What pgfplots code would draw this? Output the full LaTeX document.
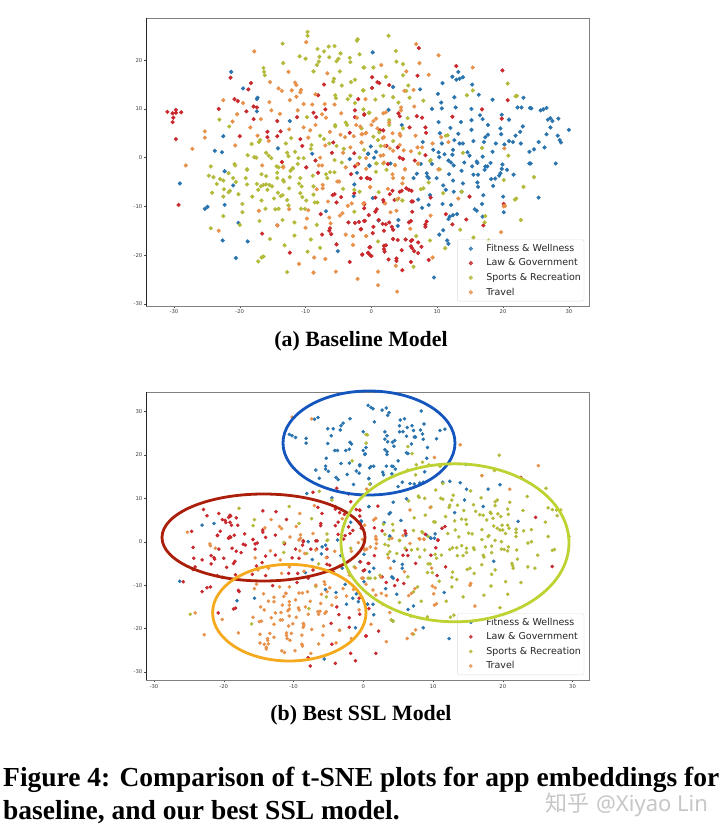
\documentclass[border=0pt]{standalone}
\usepackage{pgfplots}
\pgfplotsset{compat=1.18}
\usepackage{fontspec}
\setmainfont{DejaVu Sans}
\newfontfamily\capfont{Liberation Serif}
\newfontfamily\cjk{Noto Sans CJK SC}
\newfontfamily\wm{Noto Sans}
\definecolor{cB}{HTML}{2A74AE}
\definecolor{cR}{HTML}{C9282D}
\definecolor{cS}{HTML}{B3BA3A}
\definecolor{cT}{HTML}{E8914A}
\pgfplotsset{
 tsne/.style={
  scale only axis, width=443pt,
  axis line style={draw=black!50, line width=0.7pt},
  tick style={draw=black!70, line width=0.4pt},
  tick align=outside, major tick length=2pt,
  xtick pos=bottom, ytick pos=left,
  xtick={-30,-20,-10,0,10,20,30}, ytick={-30,-20,-10,0,10,20,30},
  /pgf/number format/assume math mode=true,
  tick label style={font=\fontsize{5.3}{6}\selectfont, text=black!75},
  xticklabel style={yshift=1.5pt}, yticklabel style={xshift=1.5pt},
  legend cell align=left,
  legend style={font=\fontsize{9.5}{11}\selectfont, text=black!85, draw=black!13, fill=white, fill opacity=0.8, text opacity=1, rounded corners=1.5pt, line width=0.4pt,
    inner xsep=1pt, inner ysep=2.5pt, row sep=1.9pt, anchor=south east},
  legend image code/.code={\path[draw=none,fill=none] (0pt,-2pt) rectangle (26pt,2pt); \draw[mark repeat=2,mark phase=2,##1] plot coordinates {(0pt,0pt)(12.5pt,0pt)(25pt,0pt)};},
 },
 dotB/.style={only marks, mark=*, color=cB, mark options={draw=none, fill=cB}},
 dotR/.style={only marks, mark=*, color=cR, mark options={draw=none, fill=cR}},
 dotS/.style={only marks, mark=*, color=cS, mark options={draw=none, fill=cS}},
 dotT/.style={only marks, mark=*, color=cT, mark options={draw=none, fill=cT}},
}
\begin{document}
\begin{tikzpicture}
\path[use as bounding box, fill=white] (0,0) rectangle (726pt,838pt);
% ---------- panel a
\begin{axis}[tsne, at={(146.3pt,532pt)}, anchor=south west, height=287.7pt,
  xmin=-34.2, xmax=33.1, ymin=-30.45, ymax=28.6, mark size=1.9pt,
  legend style={at={(axis description cs:0.9885,0.016)}}]
\addplot[dotB] coordinates {
(-21.3,17.6)(-19.5,14.2)(-17.4,12)(-17.3,12.3)(-17.4,9.5)(-12.4,7.5)(-22.5,4.4)(-23.8,1.4)(-22.7,1.1)(-14.2,1.9)(-9,0.8)(-3.3,-0.3)(-0.5,0.8)(-0.3,-1.7)
(0.2,21.6)(13.2,17.6)(12.3,16.6)(12.9,16)(13.4,16.2)(13.9,16.5)(10.8,15.3)(15.3,15)(7.4,14)(10.1,13.1)(12.6,12.4)(16.3,12.9)(18.4,11.9)(10.6,11.3)(23.1,12.3)(9.2,10)(10.7,10.1)(12.8,10.3)(15.2,10)(22.2,10.3)(22.8,10.3)(24.1,10.2)(24.3,10.1)(25.7,9.7)(26.1,9.9)(26.6,10.2)(16.5,8.7)(19.8,8.8)(16.9,7.9)(20.9,7.8)(26.8,7.8)(27.2,8.1)(27.5,7.5)(28.4,8)(10.2,7.3)(13.6,7.3)(15.2,7.7)(17.7,6.7)(12,6.1)(15.2,5.7)(19.6,6)(23,6.4)(22.6,5.3)(27.2,6.2)(30,5.7)(10.4,5)(13.2,4.9)(17.7,4.7)(19.7,4.8)(21.9,4.5)(26.6,4.8)(28.3,4.5)(12.6,3.6)(15.5,3.4)(17.3,4.2)(17.1,3.2)(20.9,3.4)(21.5,3.2)(25.4,3.2)(28.6,3.6)(28.8,3.1)(7.8,3.2)(10.7,2.9)(13.4,2.9)(13.9,2.9)(18.9,2.9)(20.2,2.7)(22.7,2.9)(26.3,2.1)(24.7,1.7)(24,1.2)(9.4,1.6)(12.4,1.6)(10.2,1.1)(11.1,0.7)(12.3,0.6)(14.6,1.1)(14.9,0.4)(18.4,1.2)(16.9,0.2)(10.3,0.1)(11.7,-0.6)(12.1,-1)(12.5,-1.6)(14.1,-1)(16,-0.8)(16.1,-1.1)(18.1,-1.1)(15.3,-1.8)(17.3,-1.8)(17.6,-1.8)(19.9,-1.4)(19.8,-2.3)(20.6,-2.5)(24,-1.2)(24.2,-1.2)(28,-1.2)(9.2,-1.3)(7.5,-1.3)(2.9,-1.2)(-0.3,-1.6)(-0.5,0.8)(0.4,0)(0.7,1.2)(-0.1,2.3)(4.6,6.7)(3.3,14.5)(2.6,9.8)
(-29.1,-5.3)(-22.3,-2.8)(-21,-5.7)(-22.3,-9.7)(-24.9,-10.1)(-25.3,-10.5)(-20.2,-13.4)(-22.6,-17)(-18.8,-17.2)(-20.6,-20.6)(-2.2,-3.1)(-2.6,-5.5)(-2.7,-7.9)(-6.9,-11)(-5.1,-19.2)
(13.7,-2.7)(6.9,-3.3)(6.4,-4.2)(8.4,-3.2)(8.5,-3.9)(8.7,-4.2)(9.9,-4.2)(11.8,-3.4)(12.4,-4.7)(15.5,-3.5)(16.2,-3.5)(17.2,-2.5)(18.2,-4.4)(18.8,-4.3)(19.4,-3.7)(19.6,-3.2)(21.6,-3.5)(13.9,-5.3)(10.9,-5.7)(11.3,-6.6)(12.5,-7)(16.1,-5.1)(16.2,-6)(18.5,-5.8)(13.7,-7)(17,-7.7)(8.9,-7.7)(20,-8)(25.4,-8.2)(0.2,-8.3)(7.1,-8.6)(10.8,-9.5)(8.7,-9.7)(7.7,-10.3)(12.1,-9.7)(16.8,-9.5)(15.7,-10.6)(16,-10.9)(13,-11.6)(12.4,-11.8)(11.9,-12.1)(11.7,-12.6)(20.1,-11.2)(16.9,-12.1)(4.1,-12.8)(4,-14)(1.1,-12.9)(10.9,-14.9)(10.3,-15.8)(11.5,-17)(11.7,-17.7)(9.5,-24.6)
};
\addplot[dotR] coordinates {
(-31,9.4)(-30.2,9.1)(-29.7,9.8)(-29.7,9.2)(-28.9,9.3)(-30.1,8.2)(-30.2,7.3)(-29.7,3.8)(-21.4,16.4)(-18.3,15.3)(-18.7,14)(-20.8,12)(-20.3,11.6)(-23.2,10)(-19,9.5)(-17.9,10.5)(-17.4,10.3)(-17.9,7.9)(-14.3,7.5)(-15.8,5.3)(-13.8,5.4)(-20,4.4)(-15.8,4.2)(-14.3,4.4)(-7.2,15)(-8.1,12.8)(-8.8,9.2)(-7,9.9)(-8.4,8.3)(-11.3,8.3)(-2,12)(-1.1,8.8)(-2.5,9.7)(-2.5,8.3)(-10.8,3.8)(-10.5,2.4)(-5.8,3.1)(-3.3,5.1)(-6,1)(-2.6,0.9)(-13.6,-0.9)(-8.5,-0.6)(-2,-1.3)(-2.5,-1.8)
(7.2,22.5)(12.9,18.8)(19.9,17.9)(7,16.8)(0.1,16.5)(0.9,15.5)(1.2,15.3)(2.7,14.9)(0.1,14.3)(20.7,11.8)(16.8,9.9)(4.1,9.1)(4.3,8.5)(-1.1,8.9)(6.9,8.5)(7.7,8.2)(12.3,8.4)(19.8,8)(5.8,6.2)(8.2,6.2)(8.3,5.1)(1.3,5.6)(1.8,5.6)(2.3,2.4)(4,2.1)(4.3,0)(4.8,-0.3)(8.2,0.5)(6.6,-0.6)(2.5,-1.3)
(-29.3,-9.7)(-16.6,-15.6)(-14.3,-13.9)(-12.4,-19.5)(-9.9,-2)(-8.1,-3.1)(-5.9,-7.7)(-5.6,-7.5)(-4.6,-8.1)(-5.3,-9.2)(-2.6,-7.3)(-3.1,-3.4)(-1.6,-4.2)(-0.6,-4.2)(-7.7,-11.6)(-6.3,-14.5)(-6.4,-15)(-6.1,-15.7)(-7.5,-15.8)(-5.3,-17.8)(-3.5,-13.3)(-2.5,-13.4)(-1.9,-13.2)(-1.1,-13)(-1.6,-14.7)(-1.1,-9.4)(-1.1,-10.4)(-0.4,-11.8)(-3.3,-21.4)(-1.4,-19.9)(-0.5,-19.5)(-0.3,-18.4)
(-0.7,-4.2)(-0.2,-4.4)(5.3,-6.3)(5.7,-6.6)(6.1,-6.8)(4.3,-7)(4.6,-6.8)(3.2,-6.8)(2.8,-7.5)(0.6,-8.2)(3.5,-8.7)(1.8,-8.7)(1.9,-9.2)(6.1,-9)(6.3,-9)(9,-8.2)(14.9,-8)(-1.1,-9.6)(0.8,-10.6)(0.6,-11.1)(6.2,-11.1)(11.3,-11.6)(14.4,-12.7)(-1,-13)(1.1,-12.8)(1.7,-13.6)(2.2,-13.7)(2.7,-13.3)(3.1,-14.2)(3.3,-14.8)(5.7,-13.3)(6,-13)(8.4,-13.1)(8.2,-13.7)(8.2,-14.2)(12.3,-13.7)(17,-13.9)(20.1,-9.5)(0.3,-14.2)(-1.6,-14.7)(1.9,-15)(0.2,-15.5)(3.3,-16.7)(4,-16.9)(5.2,-16.8)(6,-17.1)(6.2,-16.9)(7.1,-17.4)(7.6,-18.3)(6,-18.2)(6.2,-18.6)(1.9,-18.1)(2.2,-18)(1.9,-18.8)(-0.2,-18.4)(-0.5,-19.6)(-0.2,-20)(0,-20.2)(-1.4,-19.9)(2,-19.3)(4.6,-19)(6.5,-19.2)(7.1,-19.6)(2.6,-20.9)(3.8,-20.7)(3.8,-21.2)(6,-21.4)(8.7,-21)(4.7,-23.1)
};
\addplot[dotS] coordinates {
(-9.7,25.8)(-9.7,25)(-2.1,24.3)(-2.2,24)(-13.5,23.4)(-8.2,22.3)(-6.5,22.8)(-5.6,22.9)(-10.9,20.8)(-10,20.3)(-7.9,20.7)(-7.2,21.8)(-6.4,20.6)(-4.7,21.4)(-5,20.3)(-3.3,20.5)(-1.8,21.2)(-13.4,19.4)(-8,19.7)(-8.3,19)(-5.3,19.8)(-3.2,19.6)(-16.4,18.4)(-16.3,17.6)(-16.2,16.9)(-8.8,17.7)(-4.8,17.7)(-1.2,18.5)(-5.7,16.2)(-5.8,15.6)(-3.1,15.5)(-2.5,16)(-4.5,14.8)(-1.3,13.8)(-5.5,12.8)(-5.4,12.2)(-3.6,12)(-3.2,12.7)(-2.5,11.2)(-1.2,9.9)(-0.4,9.2)(-23.1,7.8)(-21.6,6.4)(-9.8,8.3)(-3.9,7.2)(-3.7,6.7)(-5.5,6.7)(-5.5,6.4)(-7.8,4.5)(-7.2,3.8)(-12.2,4)(-16.9,3.6)(-17.1,3.2)(-18.2,2.8)(-13,2.9)(-9.1,2.6)(-9.2,1.8)(-6.4,2.9)(-5.3,2.4)(-4.2,1.8)(-1.1,1.6)(-18.8,0.5)(-17.8,0.1)(-17.5,0)(-16,1)(-15.6,0.4)(-15.2,-0.1)(-12.8,1)(-12.6,0.3)(-11.6,1.2)(-11.1,-0.1)(-10.3,-0.1)(-5.6,-0.5)(-4.5,-1)(-1.8,0)(-24.4,-1.8)(-20.8,-1.3)(-20.7,-1.6)(-18.9,-2.4)(-14.1,-2)(-12,-2.2)(-11.2,-1.3)(-13.4,-1.8)
(2.6,25)(3.7,21.9)(3.8,19.7)(4.8,19.2)(0.3,18.5)(-1.1,18.5)(2.2,16.6)(4.8,16.9)(20.7,15.2)(15.4,13.8)(14.5,12.8)(5.6,14.8)(-1.2,13.8)(5.3,13.7)(1.8,12.7)(3.3,12.4)(5.8,12.3)(0.6,11.9)(4.1,11.3)(21.9,12.6)(22.1,12.7)(-0.3,9.2)(2.7,7.7)(2.7,6.7)(5.5,8.1)(4.8,6)(-1.5,6)(1.2,5.2)(0.3,4.3)(1,3.6)(3.3,3.4)(1.4,2.4)(11.3,4.5)(11.6,4.6)(16.8,2)(20.8,0.4)(7.3,0.9)(9,-0.5)(0.8,-1.2)(10.4,-2.4)(13.9,1)(7.9,11.7)
(-24.7,-3.7)(-24,-4)(-21.7,-3.2)(-23,-4.4)(-22.5,-4.7)(-23.5,-5.4)(-21,-4.2)(-20.6,-5)(-22.4,-6.5)(-21.5,-6.8)(-21.7,-7.1)(-24.2,-7.2)(-20.2,-7.5)(-22.5,-8)(-19.6,-9.5)(-19.6,-11.2)(-22.5,-12)(-24.4,-14.5)(-20,-13.8)(-18.9,-2.5)(-19.1,-4.2)(-18.9,-5.5)(-17.4,-5.4)(-16.7,-3.4)(-16,-3.8)(-16.8,-5.9)(-16.4,-5.6)(-16,-5.5)(-15.5,-5.6)(-15.1,-5.9)(-17.2,-6.6)(-15.8,-6.6)(-18.1,-8)(-16.7,-8.8)(-16.1,-10.5)(-14.8,-8.4)(-14.2,-7.2)(-13.8,-7.9)(-13.5,-7.7)(-12.8,-8.7)(-12.6,-9.8)(-17,-13)(-14.6,-10.6)(-14.1,-10.5)(-13.5,-12.8)(-11.7,-13.3)(-11.7,-16)(-15.4,-16.7)(-13.2,-18)(-17.2,-21.3)(-16.7,-20.5)(-16.4,-20.3)(-12.8,-23.5)(-14.4,-1.8)(-14.3,-3.1)(-14.3,-4.2)(-13.4,-4.6)(-13.3,-4.9)(-12.5,-6.3)(-12.4,-4)(-12.3,-2.7)(-11.9,-2.2)(-11,-5.3)(-10.8,-4.2)(-10.6,-5.9)(-10.8,-7.3)(-10.5,-8.1)(-9.9,-8.8)(-10.7,-10.5)(-10.1,-10.5)(-9.2,-16.8)(-9.7,-19.3)(-7.8,-18.5)(-8.8,-5.9)(-8.9,-3.7)(-8.8,-7.6)(-8.6,-9.2)(-8.2,-9.2)(-8.3,-13.8)(-6.9,-3.4)(-6.7,-4.2)(-6.3,-3)(-5.6,-3)(-4.3,-6.4)(-2.6,-11.1)(-2.6,-6.6)(-1.8,-7)
(0.7,-1.2)(1.8,-1.2)(0.7,-2.9)(2.3,-2.5)(7.1,-1.3)(8.9,-0.7)(8.7,-5.1)(7.5,-6.5)(7.9,-6.3)(10.9,-7.3)(13.7,-7)(1.1,-7.1)(3.9,-8.6)(4.7,-8.8)(17.3,-12)(17.2,-13.3)(13.5,-14.8)(21.8,-8.6)(22,-8.4)(24.7,-4)(23.1,-6)(20.1,-4.6)(22.7,-12.8)(15.5,-16.4)(17.8,-17)(8.9,-17)(11.2,-18.6)(6.4,-22.4)(6.8,-16.1)(1,-17.2)
};
\addplot[dotT] coordinates {
(-17.8,21.8)(-9.9,23.7)(-12.6,17.6)(-6.7,17.3)(-15.4,15.5)(-11.6,15.4)(-11.4,14.9)(-14.1,14.2)(-13.6,13.7)(-12.1,13.8)(-10.7,13.9)(-10.8,13.4)(-8.5,13)(-12.4,11.8)(-11.4,12.5)(-22.5,11.8)(-19.5,11.2)(-15.5,11.4)(-10.3,11)(-9,10.9)(-7.1,11)(-5.6,10.9)(-20.4,8.9)(-21.1,7.4)(-15.2,9.7)(-13.9,9)(-11.2,9.7)(-7.5,8.9)(-6.9,8.2)(-4.6,9.1)(-16.8,7.9)(-18.4,6.2)(-25.3,5.4)(-25.3,4.1)(-17.3,4.5)(-15.6,3.4)(-12.5,5.8)(-10.3,6.2)(-9.3,5.6)(-8.5,6.7)(-6.3,5.3)(-2.3,6.7)(-1.7,6.4)(-2.2,8.2)(-0.9,5)(-1.4,4.8)(-4.7,4.7)(-4,4.2)(-2.7,4.4)(-9.6,4.1)(-20.7,2.5)(-27.2,1.8)(-7,2.5)(-3.2,2.1)(-1.5,3.1)(-4.3,1)(-7.8,0)(-8,-1.6)(-7.5,-1.6)(-28.2,-1.6)(-16.6,-1.6)(-3.9,-2)(-2.2,-1.4)(-0.8,-0.1)
(6.8,23.3)(10.2,21)(7.3,19.4)(1.5,19)(8.7,17)(5.3,17.7)(15.4,18.5)(6.4,13.9)(5,13.7)(-0.9,12)(6.5,10.5)(4.5,10.3)(4.5,9.7)(1.8,9.1)(2.2,9.3)(0.7,8)(0.3,7.5)(0,6.7)(2.7,7.2)(0.9,6)(-1.5,4.8)(-0.8,5.1)(1.7,4)(1.9,4.2)(3.2,5)(4.3,4.9)(4.4,4.5)(6.7,4.5)(10.6,4.2)(11.7,3.2)(9.3,2.9)(7.7,2.1)(7,2.1)(6,1.3)(4.9,1.5)(3.3,1.4)(2,2.4)(1.8,0.5)(1.4,0.4)(2.8,1.9)(20.2,1.9)(3.6,-1.6)(5.1,-2.4)(7.1,-1.2)(10.2,-2.4)(-1.5,3.1)(-0.8,-2.3)(1.9,-1)(4.3,2.6)
(-23.2,-15)(-17.1,-10.9)(-14.3,-13.9)(-12.5,-10.6)(-13.4,-2)(-11,-21.8)(-8.7,-20.5)(-8.8,-23.6)(-7,-20.8)(-5.4,-23.4)(-2.1,-24.9)(-9.6,-10.8)(-9.8,-12.5)(-10,-14.4)(-6.6,-9)(-6.4,-12.3)(-6.2,-13.5)(-4.8,-11.9)(-4.4,-11.4)(-3.9,-15.8)(-2.8,-16.1)(-2.8,-17.9)(-0.8,-16.1)(-3.6,-9.9)(-3,-9.4)(-1.2,-9.4)(-7.4,-5.6)(-7.4,-6.3)(-5.2,-4.9)(-4.9,-4.9)(-8.3,-6.5)(-0.2,-6)
(3.6,-1.5)(5.1,-2.4)(3.2,-3.4)(3.3,-4.2)(4.8,-4.2)(4.7,-5.3)(-0.2,-6.1)(2.5,-6.4)(10.2,-2.4)(4.1,-8.4)(2.1,-9.4)(-1.2,-9.4)(2.9,-11.2)(3.8,-10.9)(13.2,-8.4)(9,-11.9)(5.9,-14.6)(-0.8,-16.1)(20.1,-10)(20.3,-9.9)(19.7,-15.3)(9.3,-20.5)(3.7,-22.2)(1,-23.4)(1,-26.2)(3.9,-27.5)
};
\legend{Fitness \& Wellness,Law \& Government,Sports \& Recreation,Travel}
\end{axis}
% ---------- panel b
\begin{axis}[tsne, at={(146.3pt,157.7pt)}, anchor=south west, height=288pt,
  xmin=-31.1, xmax=32.4, ymin=-31.9, ymax=34.4, mark size=1.6pt,
  legend style={at={(axis description cs:0.9885,0.018)}}]
\addplot[dotB] coordinates {
(0.7,31.4)(-6.5,28.6)(-7,28.2)(-1.9,28.3)(-10.6,24.7)(-10.2,24.4)(-9.7,24)(-8.2,23.8)(-8.2,22.7)(-5.1,26)(-4.3,26)(-3.3,25.7)(-3.2,26.7)(-2.9,27.3)(0,25.3)(-4.6,24.4)(-5.1,22.6)(-1.9,22.9)(-1.7,22.5)(-4.1,21)(-3.7,21)(-2.5,21)(-2,21.3)(0.4,21.7)(0,21)(0.3,20.2)(-5.3,19.2)(-3.2,18)(-2,18.1)(-0.5,17.5)(-5.4,17.4)(-5.4,16.7)(-5,16.2)(-6.8,16.5)(-1,16.3)(-0.6,15.8)(-2.3,15.5)(0.9,17)(-6.3,14.6)(-3.9,14.8)(-3.6,14.3)(-1.4,13.2)(0.8,14.6)(-8.1,11.1)(-4.5,10.1)(-23.1,3.8)(-21.4,4.2)(0.8,8.1)(-0.3,4.8)(-1.8,4.5)(-7.9,0)
(1.1,30.9)(1.4,30.6)(1.6,27.6)(2.7,30.3)(3.3,30.8)(3.7,29.7)(3.5,29.1)(8.3,30.1)(5.3,28)(5.9,28.3)(8.7,27.1)(5.2,26.7)(6.3,26.3)(7,26.7)(8.2,25.7)(5.2,25.3)(5.7,25.3)(6.2,24.3)(7.2,25.6)(8.5,24.8)(7.3,24.1)(7.5,24.1)(11,25.6)(11.7,25.9)(10.5,23.7)(8.6,23.6)(3.1,25.3)(3.4,24.4)(3.1,23.6)(3.5,23)(4.2,22.9)(4.5,23.3)(4.4,22)(6.9,22.5)(9.2,21.7)(3.1,21.2)(3.4,20.7)(3.4,20.1)(6.2,20.5)(6.4,20.3)(9.1,19.2)(5,18.6)(0.2,20.1)(1.1,17.3)(1.5,17.4)(3.3,17.4)(4.1,17.4)(4.3,17.3)(4.6,16.7)(2.8,16)(2.9,15.4)(4.1,15.6)(8.8,16.1)(-0.5,17.7)(0.8,14.5)(1,13.3)(5,12.7)(5.6,13.7)(6.7,13.4)(7.3,13.3)(8.1,13.5)(8.6,13.7)(11.4,13.7)(12.4,13.9)(13.9,13.6)(14.8,12.1)(17.9,12.1)(19.6,13.1)(14.5,9.6)(6.2,9.9)(4.3,9.1)(0.8,8.1)(13.1,6.7)(17.2,8.1)(3.9,6.7)(3.7,6.4)(5.4,4.9)(3,4.4)(22.2,4.7)(9.1,1.5)(10.3,1.8)(3.8,1.3)(9.7,0.8)(6.1,1.5)(-0.3,4.6)(14.7,17.8)
(-26.3,-9.1)(-15.6,-13)(-18.1,-13.6)(-7.3,-4.1)(-6,-2.8)(-5.4,-0.8)(-5.9,-1.2)(-3.2,-3.2)(-3,-6.1)(-3.7,0.4)(-8.3,-7.1)(-2.6,-9.8)(-3.9,-11.7)(-5.4,-11)(-2.4,-14.4)(-1.5,-13)(-1,-12)(-0.7,-13.8)(-1.1,-19.8)(-5.6,-27)(0.1,-2.9)(-0.5,-4.6)(0.6,-14.4)(0.9,-6.9)(0.1,-9.2)
(9.6,0.9)(10.2,0.8)(3.8,1.2)(4.4,-4.5)(5.6,-5.2)(5.6,-6.1)(1.5,-6.1)(4.1,-8.1)(4.3,-8.4)(3.2,-10.8)(4.8,-12.1)(11.6,-11.7)(6.4,-15.6)(7.2,-14.8)(8.6,-19.8)(12.3,-22.3)(18.7,-4.5)(1.4,-14.4)(0.6,-14.4)(1.5,-16.8)(4.2,-18.2)
};
\addplot[dotR] coordinates {
(-22.9,7.4)(-22.4,6)(-20.7,6.5)(-19.1,6.1)(-19,5.9)(-19.3,5.6)(-20.2,5.1)(-19.8,4.9)(-19.1,4.5)(-18.9,3.8)(-18.2,5.5)(-18,3.8)(-19.7,4.4)(-24.6,2.4)(-20.5,2.4)(-20.9,1.5)(-19.3,0.8)(-19,1)(-18.5,1.5)(-17,1.8)(-14.4,7.1)(-12.5,6.9)(-11,5.1)(-14.4,2.7)(-14.4,2.2)(-14,1)(-12.6,1.5)(-15.8,0.5)(-15.2,-0.3)(-11.3,-0.3)(-6.5,7.9)(-5.9,6.5)(-7.2,11.4)(-3.8,12.3)(-2.1,11)(-1.8,9.2)(-4,8.1)(-4,7.5)(-3.4,6.7)(-2.7,6.3)(-1,7.4)(-0.5,7.2)(-0.5,5.9)(-0.5,4.2)(-6.1,4.2)(-6.1,3.7)(-3.6,4.5)(-4,3.7)(-2.1,3.4)(-1.5,2.6)(-1.9,1.9)(-3.6,1.7)(-6.8,0.2)(-8.6,0.2)(-6.6,0.2)(-2.8,0.6)
(2.1,8.2)(1.6,3.2)(2.7,2.5)(6,2.5)(6.1,1.9)(8.9,1.7)(11.3,3.1)(11.7,3.5)(10.7,0.4)(24.7,5.6)(22.6,14.8)(-0.5,7.3)(-0.3,3.1)
(-24.4,-1.3)(-24.3,-3.8)(-23.1,-4.2)(-21.8,-3.2)(-21.4,-3.7)(-21.3,-4)(-21.8,-5.1)(-24.1,-5.8)(-24.4,-6.4)(-20.7,-1.7)(-20,-3.8)(-19.6,-5.9)(-18.4,-4.5)(-18.6,-5)(-18.3,-7.6)(-18.8,-1.5)(-18.2,-2.2)(-17.5,-2.5)(-17.2,-0.6)(-16.9,-0.8)(-20.9,1.4)(-19.3,0.9)(-19.1,1.2)(-15.8,0.5)(-15.5,-0.5)(-15.5,-1.7)(-14,-3.3)(-12.6,-3.1)(-15.3,-5.6)(-14.5,-4.8)(-15.9,-7.5)(-14,-7.8)(-11.3,-0.5)(-9.7,-1.7)(-10.2,-3.7)(-9.2,-3.8)(-8.6,0)(-8.7,-0.8)(-6.7,-1.7)(-7.5,-1.7)(-5.2,-1.7)(-5.2,-3.6)(-5.2,-5.2)(-4.8,-5.4)(-4.3,-6.9)(-10.7,-7.3)(-9.4,-7.3)(-7.2,-6.5)(-7.9,-8.4)(-9.5,-9.4)(-13,-10.1)(-11.1,-11.9)(-20.9,-7.8)(-20.2,-8.2)(-21.9,-10.4)(-22.4,-10.6)(-23.1,-11.5)(-25.8,-9.2)(-17.9,-11.2)(-17.8,-11.5)(-20.8,-16.4)(-18.6,-15.5)(-18.3,-15.3)(-4.6,-18.8)(-3.8,-15)(-3.5,-16.8)(-4.5,-23.6)(-2,-17.5)(-2,-19.7)(-1.8,-25.7)(-1.1,-27.4)(-0.5,-16.7)(-4,-28)(-7.6,-28.6)(-7.9,-26.7)(0.4,-21.7)(-2.6,1.4)(-2.1,-6.9)(-0.6,-13)(0.8,-15.4)(0.7,-5)
(10.7,0.3)(6.2,-1.9)(6.4,-3.2)(10.4,-1.4)(9.7,-3.1)(7.5,-5)(11.8,-5.8)(10.6,-7.8)(27.1,-5.7)(0.2,-6.5)(0,-6.7)(0.8,-5)(2.7,-8.1)(3.3,-9.4)(4.5,-10.1)(4.9,-8.8)(5.8,-9.6)(0.4,-21.7)(2.2,-20.6)(1.8,-25.7)(-0.4,-4.6)(1.6,-3.2)(5.7,-3.1)
};
\addplot[dotS] coordinates {
(-17.8,7.7)(-10.6,8.1)(-15.6,5.1)(-15.8,3.7)(-7.4,5.3)(-9.2,4.2)(-6.3,11.6)(0.4,24.7)(0.6,24.6)(0.4,22.7)(-1.6,18.6)(0.5,12.1)(-5.2,1.8)(-5.2,0.3)(-4.5,9.6)(0.9,13.2)(-11.4,-0.2)
(19.5,19.9)(6.4,21.9)(7,20.3)(8.5,18.3)(7.6,17.7)(6.4,16.5)(7.5,15.4)(9.4,17.7)(11,17.4)(18.8,16.4)(17,15.2)(11.4,13.4)(10.4,11.9)(12.7,9.6)(12.9,10.7)(11.1,10)(11.4,9.8)(7.9,10.5)(8,10.2)(8.8,10)(6.5,9.4)(9.7,8)(12.4,8.4)(12.3,7.9)(13.5,8.4)(15.8,8.5)(16.9,10.1)(15.4,11.7)(18.9,9.2)(18.9,8.3)(19.2,9.6)(21,9.1)(23.5,10.4)(26.2,12.3)(26.5,7.8)(27.1,7.4)(27.7,7.3)(28.3,7.3)(27.8,6)(26.1,4.5)(26.5,1.2)(22.9,7.2)(20.7,7.5)(20.8,6.3)(19.7,5.8)(18.2,6.8)(18.3,6.5)(19.3,6.4)(18.6,5.4)(16.1,7)(16.7,6.2)(17.2,6.1)(17.7,5)(14.4,7.2)(14.1,5.2)(14.7,5.1)(14.8,4)(13.1,4.8)(11.8,5.8)(10.1,4.6)(10.3,4.5)(8.9,6.1)(7.3,5.5)(4.2,4)(4.3,2.6)(2.9,4)(8.4,2.3)(8.5,2.1)(13.2,2.7)(12.1,1.9)(15.6,1.8)(15.1,2)(17,2.8)(17.9,1.2)(18,1.4)(18.7,3.6)(19.2,3.1)(19.9,3.8)(19.6,2.7)(20,2.7)(20.7,3.8)(20.9,3.1)(20.4,1.9)(21.9,2.9)(21.9,2.1)(23,2.5)(24.1,2.8)(13.7,1.1)(19.8,0)(23.6,-0.3)(24.1,0)(29.5,1.2)(5.2,0.3)(3.1,1.7)(7.2,2.6)(9.3,1.2)
(-24.8,-16.7)(-16,-18.9)(-6.8,-10.3)(-5.3,-12.7)(-7.8,-15.4)(-3.4,-20.4)(-6.4,-5.1)(-11.4,-2.5)(-1.8,-1.5)(-1.3,-5.8)(-8.1,-2.7)(-5.1,0.4)(0.7,-8.4)
(3.7,0.6)(5.2,0.3)(3.1,-0.6)(3.6,-0.9)(3.8,-2.3)(3.5,-2.9)(4.8,-2.7)(6,-1.5)(6.9,-1.9)(7.8,-1.7)(8.8,-1.9)(8.1,-3.5)(10.3,-2.9)(10.5,-3.8)(11.2,-3.1)(12.4,-1.8)(12.8,-1.4)(13.4,-1.4)(14.1,-0.9)(14.8,-1.5)(14.8,-2.5)(15.8,-1.4)(15.9,-1.8)(17.5,-1.2)(18.4,-1)(19.8,-1.7)(20.2,-1.8)(20.8,-1.2)(20.7,-2.1)(22,-1.9)(13.5,-3.2)(14.3,-3.2)(17.2,-3.1)(17.3,-3.5)(18.4,-2.5)(25,-3.1)(27.1,-2)(27.4,-1.8)(21.3,-5)(21.4,-5.5)(21.5,-6.1)(22.1,-4)(23.6,-5.8)(24.6,-6.1)(17,-5.3)(18.9,-6.5)(18.4,-7.5)(14.9,-6.4)(15.3,-6.1)(15.9,-7.3)(12.8,-7)(12.7,-8.2)(13.4,-8.7)(9.3,-5.1)(9.6,-5.1)(9.2,-7.1)(9.9,-7.1)(10.9,-9.1)(14.3,-12.7)(17.3,-12.3)(18.3,-10.2)(20.7,-12.1)(20.4,-9.2)(22.6,-9.4)(19.6,-15.2)(11.9,-13.7)(8.3,-13.7)(5.2,-14)(6.8,-17.1)(9.2,-17.3)(12.5,-17.4)(13,-16.9)(4,-18)(4.3,-18.3)(6.4,-8.1)(7.8,-10.4)(7.2,-11.5)(1,-8.4)(1.7,-8.4)(12.7,-10.4)(7.2,-21.3)(17,0.5)(18.9,0.3)(2.4,-7.7)(21.9,1.2)
};
\addplot[dotT] coordinates {
(-10.2,28.7)(-7.4,28.3)(-25.2,2.2)(-7,8.3)(-9.1,6.5)(-13.2,5.1)(-12,3.5)(-11.7,3)(-9.6,3.5)(-14.1,3.2)(-10.5,1.1)(-9,1.6)(-9,0.8)(-7.2,1.9)(-3,5.3)(0.2,3.8)(-0.7,-0.2)(-0.1,0.5)(-22,-0.5)
(13.9,22.3)(10.2,19.4)(25.1,17.5)(17,15.2)(21,12.1)(0.5,12.1)(6.7,7.3)(1.5,5)(1.8,5.4)(1.8,1.2)(1.9,0.5)(8,0.7)(8.7,0.6)(9.6,7.9)
(-21.9,-0.9)(-21.2,-1.5)(-15.5,-3.7)(-13.3,-2.1)(-11.7,-7.3)(-10.6,-5.8)(-13.6,-6.1)(-15.1,-6.5)(-8.4,-2.7)(-9.1,-2.1)(-9.2,0.4)(-6.8,-1.9)(-5.6,-9.2)(-5.5,-9.8)(-6.8,-10)(-8,-11.5)(-15.3,-9.8)(-15.6,-10.8)(-14.3,-12)(-12,-10.4)(-10.6,-10.4)(-9.2,-11.8)(-8.7,-11.8)(-12.8,-12.8)(-12.8,-13.8)(-13.6,-13.7)(-11.1,-11.9)(-11.4,-12.6)(-9.7,-13.4)(-7.6,-13.7)(-11.6,-14.6)(-10.6,-13.8)(-10.6,-14.6)(-10.6,-15.5)(-14.7,-15)(-14.2,-15.7)(-12.6,-16.4)(-11.8,-16.3)(-10.8,-15.9)(-9.3,-15.2)(-9.2,-15.7)(-8.3,-15)(-7.9,-16.7)(-15.8,-17.4)(-13.2,-17.5)(-11.9,-18)(-11.6,-18)(-10.6,-17.1)(-9.6,-17.4)(-14.9,-18.4)(-14.6,-18.3)(-12.8,-19)(-10.7,-19.4)(-10.1,-18.9)(-8.6,-18.8)(-8.5,-19.2)(-8.6,-19.7)(-7.4,-20.2)(-11,-21)(-10.3,-21.1)(-14.8,-21.3)(-13.4,-21.1)(-12.8,-22)(-13.7,-22.3)(-13.7,-22.7)(-11,-21.6)(-10.9,-22.3)(-10.5,-22.7)(-8.8,-21.5)(-14.8,-23.3)(-14.2,-23.6)(-13.6,-23.5)(-13.9,-24.3)(-13.9,-24.7)(-8.8,-23.6)(-8.7,-24)(-9.8,-25.1)(-6.4,-23.5)(-11.7,-25.1)(-11.3,-25.5)(-7.5,-25.7)(-17.9,-21)(-22.8,-21.4)(-20.2,-17.9)(-24.1,-16.4)(-6.5,-16.1)(-6.2,-16)(-6.4,-16.7)(-5.7,-19.4)(-5.8,-21.5)(-5.5,-16.5)(-5.3,-16.1)(-4.5,-14.6)(-6.1,-14.2)(-6,-12.1)(-5.2,-11.5)(-3.9,-12.8)(-3.9,-23.3)(-3.4,-20.4)(-1.7,-22.3)(-2.4,-12.5)(-2.9,-10.8)(-1.4,-11)(-4.8,-10.6)(-0.6,-15.7)(-4.1,-2.2)(-1.7,-2.2)(0,-8.4)(-1.1,-6)(0.2,-1.7)(0.5,-1.7)(-2,-7.7)(-3.4,-5.6)(-8.5,-6.8)(-11.9,-4.2)(-5.3,-3.7)(-0.2,-8.4)
(0.2,-1.9)(1,-1.2)(1.8,0.6)(1.9,-0.4)(1.8,-1.5)(3.6,-3.7)(3.9,-6.1)(5.9,-6.9)(2.6,-11.9)(1.8,-12.3)(1.4,-11.1)(3.3,-12.4)(6.9,-11.9)(6.5,-12.4)(7.4,-10.8)(9.9,-10.2)(10.3,-10.6)(10.1,-12)(10.2,-14.6)(10.5,-14.3)(15.4,-9.6)(15.3,-10)(16,-14.8)(2.8,-14.4)(3.8,-16.3)(1.1,-19)(3.3,-23)(6.3,-22.3)(7,-21.2)(7.5,-20.3)(0.4,-9.8)(-0.1,-8.4)(8.1,0.6)(8.7,0.5)(4.1,0.8)(2.5,-8.1)(6.7,-0.4)(5.7,1.4)(9.8,-6.1)
};
\legend{Fitness \& Wellness,Law \& Government,Sports \& Recreation,Travel}
\end{axis}
% darker left spines
\draw[black!85, line width=0.8pt] (146.3pt,532pt) -- (146.3pt,819.7pt);
\draw[black!85, line width=0.8pt] (146.3pt,157.7pt) -- (146.3pt,445.7pt);
% hand-drawn ellipses (annotation over the figure)
\draw[color={rgb,255:red,20;green,85;blue,190}, line width=2.8pt] (369pt,395pt) ellipse [x radius=86pt, y radius=52pt];
\draw[color={rgb,255:red,170;green,30;blue,10}, line width=2.8pt] (263.5pt,300.5pt) ellipse [x radius=101.5pt, y radius=43.5pt];
\draw[color={rgb,255:red,245;green,170;blue,30}, line width=2.8pt] (289.3pt,225.3pt) ellipse [x radius=76.7pt, y radius=48.3pt];
\draw[color={rgb,255:red,190;green,210;blue,50}, line width=2.8pt] (455pt,295.2pt) ellipse [x radius=114pt, y radius=79pt];
% captions
\node[font=\capfont\bfseries\fontsize{21.8}{24}\selectfont] at (361pt,497pt) {(a) Baseline Model};
\node[font=\capfont\bfseries\fontsize{21.8}{24}\selectfont] at (361pt,123pt) {(b) Best SSL Model};
\node[font=\capfont\bfseries\fontsize{27.5}{30}\selectfont, anchor=base west, inner sep=0pt] at (3pt,51pt) {Figure 4: Comparison of t-SNE plots for app embeddings for};
\node[font=\capfont\bfseries\fontsize{27.5}{30}\selectfont, anchor=base west, inner sep=0pt] at (3pt,18pt) {baseline, and our best SSL model.};
\node[text=black!22, anchor=west, inner sep=0pt, font=\fontsize{22}{24}\selectfont] at (545pt,33pt) {{\cjk 知乎} {\wm @Xiyao Lin}};
\end{tikzpicture}
\end{document}
